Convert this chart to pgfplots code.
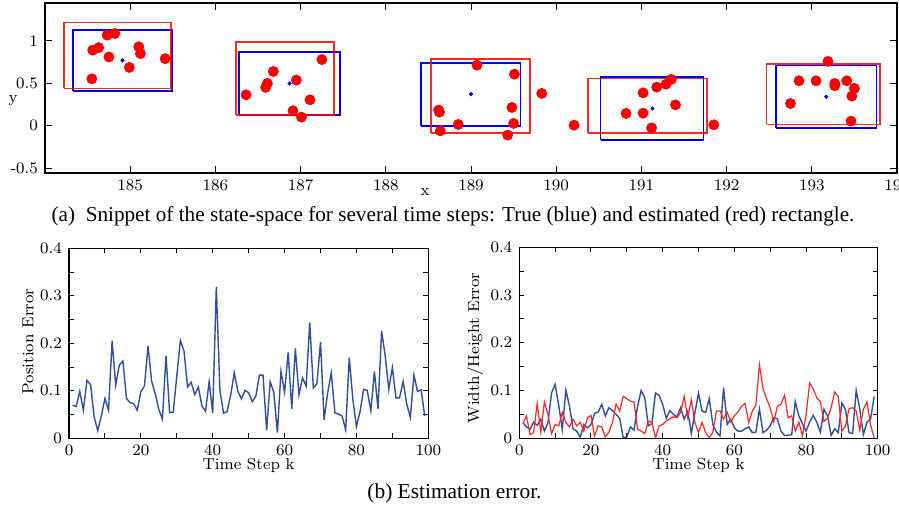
\documentclass[border=0pt]{standalone}
\usepackage{fontspec}
\newfontfamily\capfont{Liberation Serif}
\usepackage{pgfplots}
\usepackage{pgfplotstable}
\pgfplotsset{compat=1.18}
\definecolor{errBlue}{HTML}{2F4F9F}
\definecolor{errRed}{HTML}{FF2626}

% time step k, position error, width/height errors (blue, red)
\pgfplotstableread{
k pos wb wr
1 0.070 0.033 0.031
2 0.067 0.024 0.047
3 0.099 0.019 0.008
4 0.059 0.034 0.012
5 0.122 0.027 0.073
6 0.113 0.040 0.013
7 0.045 0.015 0.076
8 0.016 0.033 0.050
9 0.047 0.095 0.010
10 0.084 0.113 0.029
11 0.059 0.069 0.026
12 0.205 0.019 0.054
13 0.112 0.101 0.033
14 0.154 0.067 0.024
15 0.163 0.020 0.040
16 0.084 0.015 0.026
17 0.075 0.002 0.033
18 0.073 0.029 0.015
19 0.059 0.022 0.043
20 0.098 0.029 0.048
21 0.110 0.052 0.005
22 0.194 0.055 0.026
23 0.120 0.071 0.024
24 0.094 0.047 0.003
25 0.061 0.064 0.013
26 0.040 0.058 0.033
27 0.174 0.050 0.072
28 0.054 0.042 0.057
29 0.055 0.001 0.088
30 0.131 0.003 0.083
31 0.206 0.024 0.078
32 0.184 0.017 0.076
33 0.108 0.067 0.019
34 0.118 0.100 0.015
35 0.092 0.085 0.010
36 0.108 0.026 0.036
37 0.068 0.031 0.033
38 0.057 0.095 0.001
39 0.119 0.090 0.026
40 0.053 0.071 0.029
41 0.319 0.042 0.036
42 0.101 0.058 0.041
43 0.053 0.050 0.045
44 0.056 0.045 0.043
45 0.091 0.064 0.054
46 0.138 0.040 0.088
47 0.099 0.057 0.043
48 0.083 0.010 0.081
49 0.101 0.054 0.033
50 0.096 0.094 0.012
51 0.077 0.057 0.033
52 0.089 0.054 0.012
53 0.133 0.083 0.001
54 0.133 0.029 0.013
55 0.017 0.013 0.057
56 0.119 0.005 0.057
57 0.097 0.106 0.040
58 0.012 0.029 0.055
59 0.141 0.040 0.034
60 0.097 0.022 0.047
61 0.181 0.015 0.055
62 0.062 0.015 0.067
63 0.189 0.020 0.073
64 0.092 0.024 0.033
65 0.127 0.012 0.057
66 0.110 0.013 0.069
67 0.244 0.061 0.154
68 0.106 0.012 0.104
69 0.115 0.017 0.083
70 0.203 0.026 0.064
71 0.039 0.043 0.034
72 0.096 0.041 0.067
73 0.138 0.015 0.071
74 0.054 0.006 0.090
75 0.051 0.006 0.043
76 0.047 0.008 0.047
77 0.018 0.077 0.015
78 0.170 0.047 0.034
79 0.082 0.031 0.005
80 0.025 0.015 0.047
81 0.056 0.034 0.116
82 0.103 0.048 0.104
83 0.101 0.034 0.085
84 0.058 0.013 0.077
85 0.141 0.061 0.035
86 0.062 0.047 0.043
87 0.226 0.006 0.064
88 0.174 0.020 0.097
89 0.103 0.012 0.087
90 0.149 0.074 0.015
91 0.085 0.061 0.026
92 0.085 0.012 0.062
93 0.120 0.010 0.064
94 0.072 0.100 0.057
95 0.044 0.061 0.017
96 0.133 0.008 0.061
97 0.099 0.034 0.076
98 0.102 0.040 0.029
99 0.047 0.087 0.001
}\errtable

\pgfplotsset{
  mstyle/.style={
    scale only axis,
    tick align=inside,
    axis line style={line width=0.7pt},
    tick style={black, line width=0.5pt},
    ticklabel style={font=\footnotesize},
    label style={font=\footnotesize},
  },
  errstyle/.style={
    mstyle,
    xmin=0, xmax=100, ymin=0, ymax=0.4,
    xtick={0,20,40,60,80,100},
    minor xtick={10,30,50,70,90},
    ytick={0,0.1,0.2,0.3,0.4},
    minor ytick={0.05,0.15,0.25,0.35},
    major tick length=2.5pt, minor tick length=2.5pt,
    xlabel={Time Step k},
    xlabel style={at={(axis description cs:0.5,0)}, anchor=center, yshift=-13.4pt},
  },
}

\begin{document}
\begin{tikzpicture}
\path[use as bounding box] (0,0) rectangle (449.5pt,-254.5pt);

% (a) state space snippet
\begin{axis}[mstyle,
  at={(22.5pt,-86.5pt)}, anchor=south west,
  width=426pt, height=85pt,
  xmin=184, xmax=194, ymin=-0.555, ymax=1.445,
  xtick={185,186,...,194},
  ytick={-0.5,0,0.5,1},
  yticklabels={{-0.5},0,0.5,1},
  major tick length=3.5pt,
  xlabel={x}, ylabel={y},
  xlabel style={at={(axis description cs:0.446,0)}, anchor=center, yshift=-9.5pt},
  ylabel style={rotate=-90, at={(axis description cs:0,0.4235)}, anchor=center, xshift=-16pt},
]
% true rectangles
\addplot[blue, line width=0.8pt] coordinates {(184.33,0.41) (185.49,0.41) (185.49,1.13) (184.33,1.13) (184.33,0.41)};
\addplot[blue, line width=0.8pt] coordinates {(186.28,0.126) (187.46,0.126) (187.46,0.867) (186.28,0.867) (186.28,0.126)};
\addplot[blue, line width=0.8pt] coordinates {(188.41,0.0) (189.58,0.0) (189.58,0.741) (188.41,0.741) (188.41,0.0)};
\addplot[blue, line width=0.8pt] coordinates {(190.52,-0.168) (191.73,-0.168) (191.73,0.576) (190.52,0.576) (190.52,-0.168)};
\addplot[blue, line width=0.8pt] coordinates {(192.58,-0.027) (193.76,-0.027) (193.76,0.711) (192.58,0.711) (192.58,-0.027)};
% estimated rectangles
\addplot[red, opacity=0.85, line width=0.8pt] coordinates {(184.22,0.44) (185.48,0.44) (185.48,1.216) (184.22,1.216) (184.22,0.44)};
\addplot[red, opacity=0.85, line width=0.8pt] coordinates {(186.24,0.126) (187.39,0.126) (187.39,0.985) (186.24,0.985) (186.24,0.126)};
\addplot[red, opacity=0.85, line width=0.8pt] coordinates {(188.53,-0.086) (189.69,-0.086) (189.69,0.785) (188.53,0.785) (188.53,-0.086)};
\addplot[red, opacity=0.85, line width=0.8pt] coordinates {(190.37,-0.082) (191.77,-0.082) (191.77,0.558) (190.37,0.558) (190.37,-0.082)};
\addplot[red, opacity=0.85, line width=0.8pt] coordinates {(192.47,0.016) (193.80,0.016) (193.80,0.73) (192.47,0.73) (192.47,0.016)};
% measurements
\addplot[only marks, mark=*, mark size=2.5pt, red] coordinates {
(184.56,0.89) (184.63,0.92) (184.73,1.067) (184.82,1.087) (184.75,0.81) (185.10,0.93) (185.12,0.85) (184.99,0.687) (185.41,0.79) (184.55,0.553)
(186.36,0.365) (186.59,0.452) (186.61,0.499) (186.68,0.64) (186.95,0.538) (187.25,0.78) (187.11,0.306) (186.91,0.177) (187.01,0.102)
(189.07,0.714) (189.51,0.608) (189.83,0.381) (188.62,0.185) (188.63,0.161) (188.85,0.016) (188.64,-0.059) (189.48,0.216) (189.50,0.028) (189.43,-0.109)
(190.21,0.008) (191.02,0.388) (191.18,0.455) (191.29,0.49) (191.35,0.546) (190.82,0.146) (191.02,0.149) (191.40,0.247) (191.12,-0.024) (191.85,0.012)
(193.19,0.758) (192.85,0.53) (193.05,0.53) (193.27,0.499) (193.27,0.471) (193.41,0.53) (193.50,0.44) (193.47,0.35) (192.75,0.263) (193.46,0.055)
};
% true centres
\addplot[only marks, mark=*, mark size=0.8pt, blue] coordinates {
(184.91,0.77) (186.87,0.499) (189.0,0.373) (191.13,0.204) (193.17,0.341)};
\end{axis}

\node[font=\capfont\fontsize{10.6}{12}\selectfont, anchor=center] at (226.5pt,-108pt)
  {(a)\ \ Snippet of the state-space for several time steps: True (blue) and estimated (red) rectangle.};

% (b) left: position error
\begin{axis}[errstyle,
  at={(34.5pt,-219.15pt)}, anchor=south west,
  width=179.65pt, height=95pt,
  ylabel={Position Error},
  ylabel style={at={(axis description cs:0,0.51)}, anchor=center, yshift=20.5pt},
]
\addplot[errBlue, line width=0.7pt] table[x=k, y=pos] {\errtable};
\end{axis}

% (b) right: width/height error
\begin{axis}[errstyle,
  at={(259.65pt,-219.15pt)}, anchor=south west,
  width=179.2pt, height=95.5pt,
  ylabel={Width/Height Error},
  ylabel style={at={(axis description cs:0,0.473)}, anchor=center, yshift=22.1pt},
]
\addplot[errBlue, line width=0.7pt] table[x=k, y=wb] {\errtable};
\addplot[errRed, line width=0.6pt] table[x=k, y=wr] {\errtable};
\end{axis}

\node[font=\capfont\fontsize{10.7}{12}\selectfont, anchor=center] at (227.25pt,-246.5pt)
  {(b) Estimation error.};
\end{tikzpicture}
\end{document}
